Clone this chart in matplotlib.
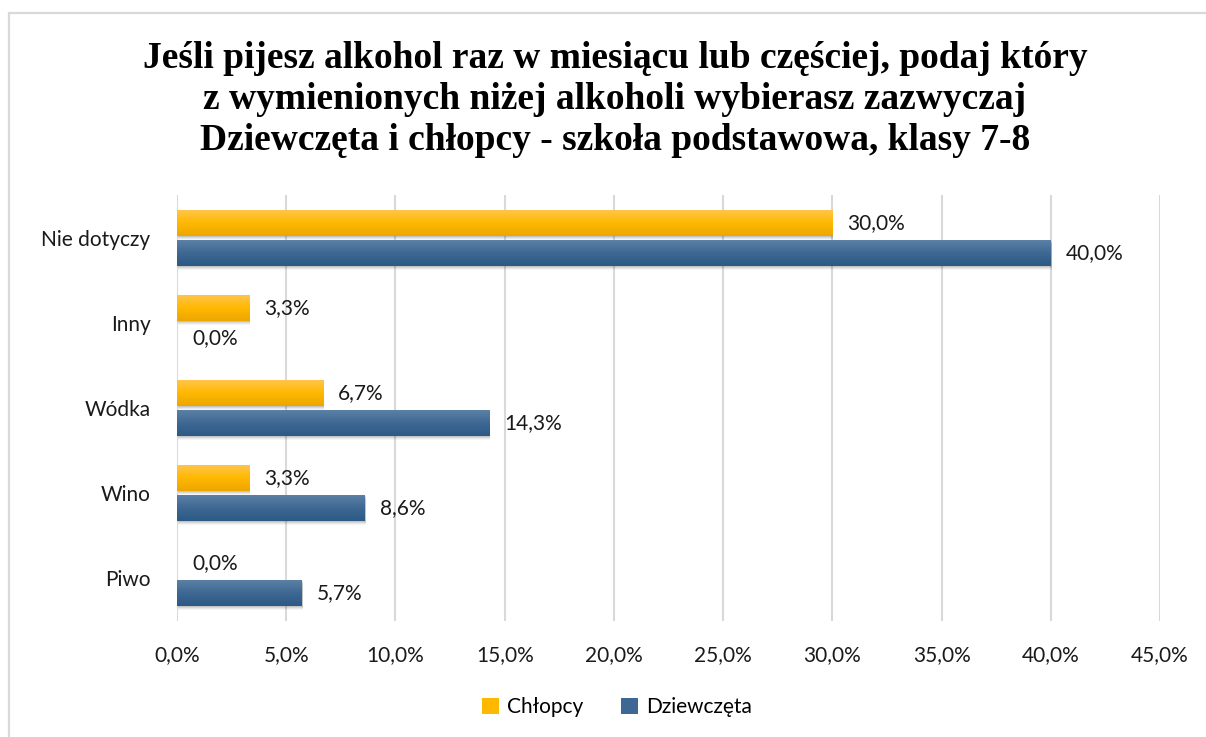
import numpy as np
import matplotlib
matplotlib.use("Agg")
import matplotlib.pyplot as plt
from matplotlib.colors import LinearSegmentedColormap
from matplotlib.patches import Patch, Rectangle
from matplotlib.transforms import offset_copy

# data (top category first)
categories = ["Nie dotyczy", "Inny", "Wódka", "Wino", "Piwo"]
chlopcy = [30.0, 3.3, 6.7, 3.3, 0.0]
dziewczeta = [40.0, 0.0, 14.3, 8.6, 5.7]
series_names = ["Chłopcy", "Dziewczęta"]
xticks = [0, 5, 10, 15, 20, 25, 30, 35, 40, 45]
title_lines = [
    "Jeśli pijesz alkohol raz w miesiącu lub częściej, podaj który",
    "z wymienionych niżej alkoholi wybierasz zazwyczaj",
    "Dziewczęta i chłopcy - szkoła podstawowa, klasy 7-8",
]

W, H = 1206, 737
fig = plt.figure(figsize=(W / 100, H / 100), dpi=100)
fig.patch.set_facecolor("white")

# chart frame (light grey border, runs off the right/bottom edge)
fig.add_artist(Rectangle((9 / W, -0.1), 1.2, 1 - 13 / H + 0.1, transform=fig.transFigure,
                         fill=False, edgecolor="#d9d9d9", linewidth=1.6))

ax = fig.add_axes([177 / W, 1 - 621 / H, (1160 - 177) / W, (621 - 195) / H])

yellow = LinearSegmentedColormap.from_list("y", ["#ffc54a", "#ffb800", "#eca600"])
blue = LinearSegmentedColormap.from_list("b", ["#5b80a5", "#3e6893", "#2c5985"])
grad = np.linspace(0, 1, 64).reshape(-1, 1)

bar_h = 0.305
off = 0.176
font = "Lato"
fs = 15

def fmt(v):
    return f"{v:.1f}".replace(".", ",") + "%"

lbl_tr = offset_copy(ax.transData, fig=fig, x=15, y=0, units="dots")

for i, cat in enumerate(categories):
    for vals, cmap, dy in ((chlopcy, yellow, -off), (dziewczeta, blue, off)):
        v = vals[i]
        yc = i + dy
        if v > 0:
            # soft drop shadow below the bar
            for k, a in ((4, 0.04), (3, 0.05), (2, 0.07), (1, 0.09)):
                tr = offset_copy(ax.transData, fig=fig, x=1, y=-k, units="dots")
                ax.add_patch(Rectangle((0, yc - bar_h / 2), v, bar_h, transform=tr,
                                       facecolor="black", alpha=a, edgecolor="none", zorder=2))
            ax.imshow(grad, cmap=cmap, extent=(0, v, yc + bar_h / 2, yc - bar_h / 2),
                      aspect="auto", interpolation="bilinear", zorder=3)
        ax.text(v, yc, fmt(v), transform=lbl_tr, va="center", ha="left",
                fontsize=fs, family=font, color="#1a1a1a", zorder=4)

ax.set_xlim(0, 45)
ax.set_ylim(len(categories) - 0.5, -0.5)
ax.set_xticks(xticks)
ax.set_xticklabels([fmt(t) for t in xticks], family=font, fontsize=fs, color="#1a1a1a")
ax.set_yticks(range(len(categories)))
ax.set_yticklabels(categories, family=font, fontsize=fs, color="#1a1a1a")
ax.tick_params(axis="both", length=0)
ax.tick_params(axis="x", pad=17)
ax.tick_params(axis="y", pad=19)
ax.grid(axis="x", color="#d9d9d9", linewidth=1.5, zorder=0)
ax.set_axisbelow(True)
for s in ax.spines.values():
    s.set_visible(False)

for line, yb in zip(title_lines, (68, 109, 150)):
    fig.text(615 / W, 1 - yb / H, line, ha="center", va="baseline",
             fontsize=27, fontweight="bold", family="Liberation Serif")

handles = [Patch(facecolor="#ffb800", edgecolor="none"),
           Patch(facecolor="#3e6893", edgecolor="none")]
fig.legend(handles, series_names, loc="center", bbox_to_anchor=(617 / W, 1 - 707 / H),
           ncol=2, frameon=False, prop={"family": font, "size": fs},
           handlelength=0.8, handleheight=0.8, handletextpad=0.4, columnspacing=1.8)

fig.savefig("out.png", dpi=100)
